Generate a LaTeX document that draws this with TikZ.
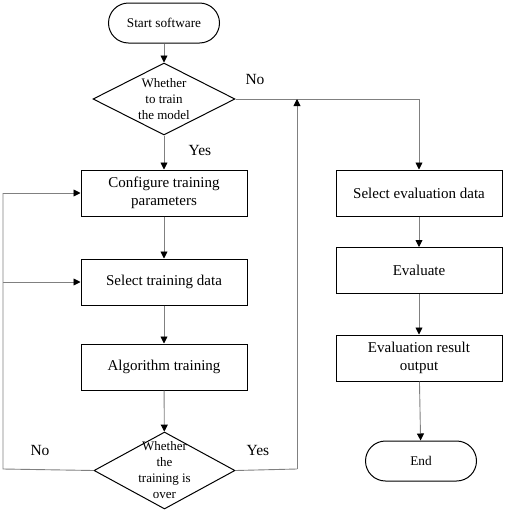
\documentclass[tikz,border=0pt]{standalone}
\usepackage{fontspec}
\setmainfont{Liberation Serif}
\usetikzlibrary{arrows.meta,shapes.geometric}
\begin{document}
\begin{tikzpicture}[x=1pt,y=-1pt,
  box/.style={draw=black,line width=1pt,minimum width=166pt,minimum height=46pt,align=center,inner sep=0pt,font=\fontsize{15}{18}\selectfont},
  term/.style={draw=black,line width=1pt,rounded corners=20pt,minimum width=111pt,minimum height=40pt,inner sep=0pt,font=\fontsize{13.3}{16}\selectfont},
  dia/.style={draw=black,line width=1pt,diamond,minimum width=142pt,minimum height=72pt,inner sep=0pt},
  dtext/.style={align=center,font=\fontsize{13}{16}\selectfont,inner sep=0pt},
  conn/.style={draw=gray,line width=0.9pt},
  arr/.style={conn,-{Triangle[length=7pt,width=7pt,fill=black,color=black]}},
  lab/.style={font=\fontsize{15.5}{16}\selectfont,inner sep=0pt}]
\useasboundingbox (0,0) rectangle (505,512);
\node[term] (start) at (164,23) {Start software};
\node[dia] (d1) at (164,99) {};
\node[dtext] (d1t) at (164,99) {Whether\\to train\\the model};
\node[box] (conf) at (164,193) {Configure training\\parameters};
\node[box] (sel) at (164,282) {Select training data};
\node[box] (alg) at (164,367) {Algorithm training};
\node[dia,minimum width=141pt,minimum height=77pt] (d2) at (164.5,470.5) {};
\node[dtext] (d2t) at (164.5,470) {Whether\\the\\training is\\over};
\node[box] (seval) at (419,193) {Select evaluation data};
\node[box] (eval) at (419,270.5) {Evaluate};
\node[box] (eres) at (419,358) {Evaluation result\\output};
\node[term] (end) at (421,461) {End};
\coordinate (jr) at (419,99);
\coordinate (ju) at (297,99);
\coordinate (bl) at (3,469);
\coordinate (br) at (297,469);
\coordinate (lc) at (3,193);
\coordinate (ls) at (3,282);
\draw[arr] (start) -- (d1);
\draw[arr] (d1) -- (conf);
\draw[arr] (conf) -- (sel);
\draw[arr] (sel) -- (alg);
\draw[arr] (alg) -- (d2);
\draw[conn] (d1.east) -- (jr);
\draw[arr] (jr) -- (seval);
\draw[arr] (seval) -- (eval);
\draw[arr] (eval) -- (eres);
\draw[arr] (eres) -- (end);
\draw[conn] (d2.west) -- (bl) -- (lc);
\draw[arr] (lc) -- (conf.west);
\draw[arr] (ls) -- (sel.west);
\draw[conn] (d2.east) -- (br);
\draw[arr] (br) -- (ju);
\node[lab] (no1) at (255,79) {No};
\node[lab] (yes1) at (200,150) {Yes};
\node[lab] (no2) at (40,450) {No};
\node[lab] (yes2) at (258,450) {Yes};
\end{tikzpicture}
\end{document}
